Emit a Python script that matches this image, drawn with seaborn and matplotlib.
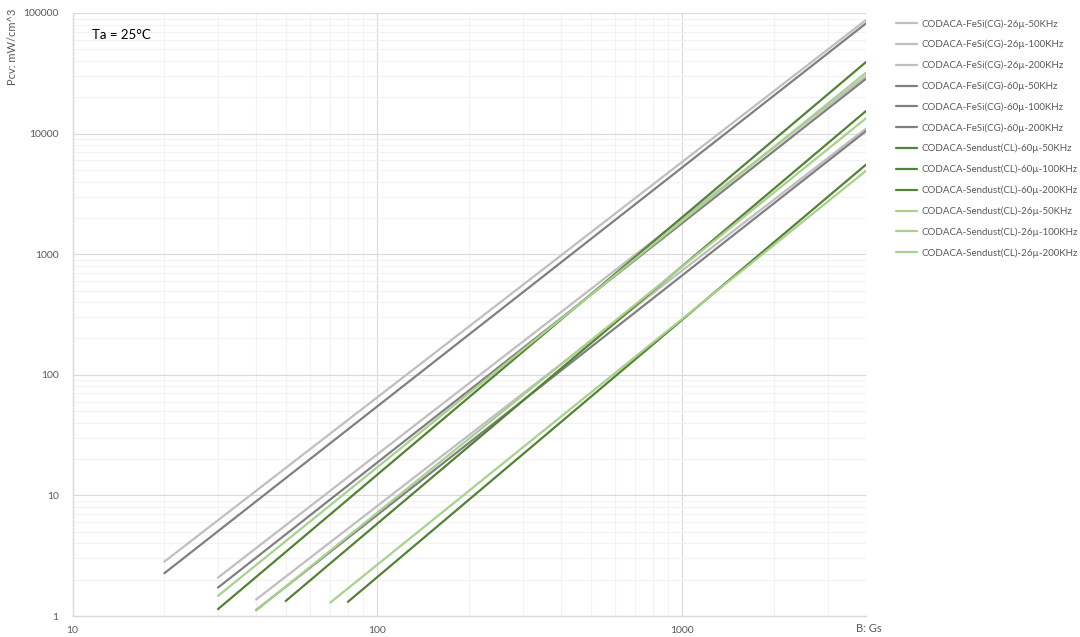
import matplotlib
matplotlib.use("Agg")
import matplotlib.pyplot as plt
import matplotlib.ticker as mticker
import seaborn as sns
import pandas as pd
import numpy as np

# ---- data ----
series = [
    "CODACA-FeSi(CG)-26µ-50KHz",
    "CODACA-FeSi(CG)-26µ-100KHz",
    "CODACA-FeSi(CG)-26µ-200KHz",
    "CODACA-FeSi(CG)-60µ-50KHz",
    "CODACA-FeSi(CG)-60µ-100KHz",
    "CODACA-FeSi(CG)-60µ-200KHz",
    "CODACA-Sendust(CL)-60µ-50KHz",
    "CODACA-Sendust(CL)-60µ-100KHz",
    "CODACA-Sendust(CL)-60µ-200KHz",
    "CODACA-Sendust(CL)-26µ-50KHz",
    "CODACA-Sendust(CL)-26µ-100KHz",
    "CODACA-Sendust(CL)-26µ-200KHz",
]
b_start = [40, 30, 20, 40, 30, 20, 80, 50, 30, 70, 40, 30]
b_end = [4000, 4000, 4000, 4000, 4000, 4000, 4000, 4000, 4000, 4000, 4000, 4000]
p_start = [1.37, 2.08, 2.82, 1.12, 1.72, 2.26, 1.31, 1.33, 1.14, 1.29, 1.11, 1.47]
p_end = [11000, 30000, 87500, 10500, 28500, 82000, 5530, 15400, 39200, 4920, 13400, 32000]

y_ticks = [1, 10, 100, 1000, 10000, 100000]
x_ticks = [10, 100, 1000]

# ---- styles ----
LIGHT_GRAY = "#bfbfbf"
DARK_GRAY = "#808080"
DARK_GREEN = "#548235"
LIGHT_GREEN = "#a9d18e"
colors = [LIGHT_GRAY] * 3 + [DARK_GRAY] * 3 + [DARK_GREEN] * 3 + [LIGHT_GREEN] * 3
palette = dict(zip(series, colors))

rows = []
for name, b0, b1, p0, p1 in zip(series, b_start, b_end, p_start, p_end):
    rows.append({"series": name, "B": b0, "Pcv": p0})
    rows.append({"series": name, "B": b1, "Pcv": p1})
df = pd.DataFrame(rows)

sns.set_theme(style="white")
plt.rcParams["font.family"] = ["Lato", "DejaVu Sans"]

W, H = 1080, 637
fig = plt.figure(figsize=(W / 100, H / 100), dpi=100)
ax = fig.add_axes([72.5 / W, 1 - 616 / H, (866 - 72.5) / W, (616 - 13) / H])

sns.lineplot(data=df, x="B", y="Pcv", hue="series", hue_order=series,
             palette=palette, linewidth=1.6, ax=ax, legend=True, sort=True)

ax.set_xscale("log")
ax.set_yscale("log")
ax.set_xlim(10, 4000)
ax.set_ylim(1, 100000)

ax.xaxis.set_major_locator(mticker.FixedLocator(x_ticks))
ax.yaxis.set_major_locator(mticker.FixedLocator(y_ticks))
ax.xaxis.set_major_formatter(mticker.FuncFormatter(lambda v, p: f"{v:g}"))
ax.yaxis.set_major_formatter(mticker.FuncFormatter(lambda v, p: f"{int(v)}"))
ax.xaxis.set_minor_locator(mticker.LogLocator(base=10, subs=np.arange(2, 10)))
ax.yaxis.set_minor_locator(mticker.LogLocator(base=10, subs=np.arange(2, 10)))
ax.xaxis.set_minor_formatter(mticker.NullFormatter())
ax.yaxis.set_minor_formatter(mticker.NullFormatter())

ax.grid(True, which="major", color="#d9d9d9", linewidth=0.8)
ax.grid(True, which="minor", color="#f2f2f2", linewidth=0.8)
ax.set_axisbelow(True)

ax.tick_params(axis="both", which="both", length=0, labelsize=7.5, labelcolor="#595959")
ax.tick_params(axis="y", pad=10)
ax.tick_params(axis="x", pad=7)

for s in ["top", "right"]:
    ax.spines[s].set_visible(False)
for s in ["left", "bottom"]:
    ax.spines[s].set_color("#d9d9d9")
    ax.spines[s].set_linewidth(1.0)

ax.set_xlabel("")
ax.set_ylabel("")

# axis titles
ax.annotate("B: Gs", xy=(1.0, 0.0), xycoords="axes fraction",
            xytext=(3, -12), textcoords="offset pixels",
            ha="center", va="center", fontsize=8, color="#595959")
fig.text(13 / W, 1 - 9 / H, "Pcv: mW/cm^3", rotation=90, ha="center", va="top",
         fontsize=8, color="#595959")

# annotation
ax.text(92 / W, 1 - 35 / H, "Ta = 25°C", transform=fig.transFigure,
        ha="left", va="center", fontsize=9.5, color="black")

# legend
handles, labels = ax.get_legend_handles_labels()
ax.get_legend().remove()
fig.legend(handles, labels, loc="upper left",
           bbox_to_anchor=(896 / W, 1 - 19 / H), bbox_transform=fig.transFigure,
           frameon=False, fontsize=7, labelcolor="#595959",
           handlelength=2.2, handletextpad=0.4, labelspacing=1.16,
           borderpad=0, borderaxespad=0)

fig.savefig("out.png", dpi=100)
